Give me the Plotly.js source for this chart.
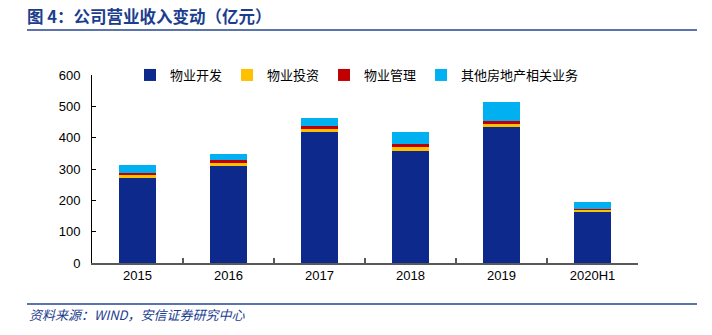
<!DOCTYPE html>
<html>
<head>
<meta charset="utf-8">
<script src="https://cdn.plot.ly/plotly-3.0.1.min.js"></script>
<style>html,body{margin:0;padding:0;background:#fff;}#chart{width:712px;height:335px;}</style>
</head>
<body>
<div id="chart"></div>
<script>
const categories = ['2015', '2016', '2017', '2018', '2019', '2020H1'];
const seriesNames = ['物业开发', '物业投资', '物业管理', '其他房地产相关业务'];
const devValues = [272, 310, 419, 358, 435, 164];
const investValues = [8, 8.5, 8.5, 12, 8.5, 4];
const mgmtValues = [7, 9.5, 10.5, 10.5, 9.5, 4];
const otherValues = [25, 21, 23.5, 38, 59.5, 23.5];
const yTicks = [0, 100, 200, 300, 400, 500, 600];
const colors = ['#0D298C', '#FFC000', '#C00000', '#00B0F0'];

const allValues = [devValues, investValues, mgmtValues, otherValues];
const traces = allValues.map((vals, i) => ({
  type: 'bar',
  name: seriesNames[i],
  x: categories,
  y: vals,
  marker: {color: colors[i], line: {width: 0}},
  hoverinfo: 'x+y+name'
}));

const W = 546, H = 188, L = 92, B = 263;
const px = v => (v - L) / W;
const py = v => (B - v) / H;

const layout = {
  width: 712, height: 335,
  margin: {l: 92, r: 74, t: 75, b: 72},
  paper_bgcolor: '#fff', plot_bgcolor: '#fff',
  barmode: 'stack',
  bargap: 0.6,
  font: {family: 'Liberation Sans, Arial, sans-serif', size: 13, color: '#000'},
  title: {
    text: '<b>图 4：公司营业收入变动（亿元）</b>',
    font: {family: 'Noto Sans CJK SC', size: 16.5, color: '#1B3D8F'},
    xref: 'container', yref: 'container',
    x: 27 / 712, xanchor: 'left',
    y: 1 - 17 / 335, yanchor: 'middle'
  },
  xaxis: {
    type: 'category',
    showline: true, linecolor: '#595959', linewidth: 1.5,
    ticks: 'inside', ticklen: 5, tickcolor: '#595959', tickwidth: 1.5,
    tickson: 'boundaries',
    showgrid: false, zeroline: false,
    tickfont: {family: 'Liberation Sans, Arial, sans-serif', size: 13, color: '#000'}
  },
  yaxis: {
    range: [0, 600],
    tickvals: yTicks,
    showline: true, linecolor: '#000', linewidth: 1,
    ticks: 'inside', ticklen: 4, tickcolor: '#000',
    showgrid: false, zeroline: false,
    ticklabelstandoff: 8,
    tickfont: {family: 'Liberation Sans, Arial, sans-serif', size: 13, color: '#000'}
  },
  legend: {
    orientation: 'h',
    x: px(130), xanchor: 'left',
    y: py(75), yanchor: 'middle',
    font: {family: 'Noto Sans CJK SC', size: 13, color: '#000'},
    itemwidth: 30,
    traceorder: 'normal',
    bgcolor: 'rgba(0,0,0,0)'
  },
  shapes: [
    {type: 'line', xref: 'paper', yref: 'paper', x0: px(27), x1: px(697), y0: py(30), y1: py(30),
     line: {color: '#5B74AC', width: 2}},
    {type: 'line', xref: 'paper', yref: 'paper', x0: px(27), x1: px(697), y0: py(304), y1: py(304),
     line: {color: '#5B74AC', width: 2}}
  ],
  annotations: [
    {text: '<i>资料来源：WIND，安信证券研究中心</i>', xref: 'paper', yref: 'paper',
     x: px(27), xanchor: 'left', y: py(314), yanchor: 'middle', showarrow: false,
     font: {family: 'Noto Sans CJK SC', size: 13, color: '#1B3D8F'}}
  ]
};

Plotly.newPlot('chart', traces, layout, {displayModeBar: false, staticPlot: true});
</script>
</body>
</html>
